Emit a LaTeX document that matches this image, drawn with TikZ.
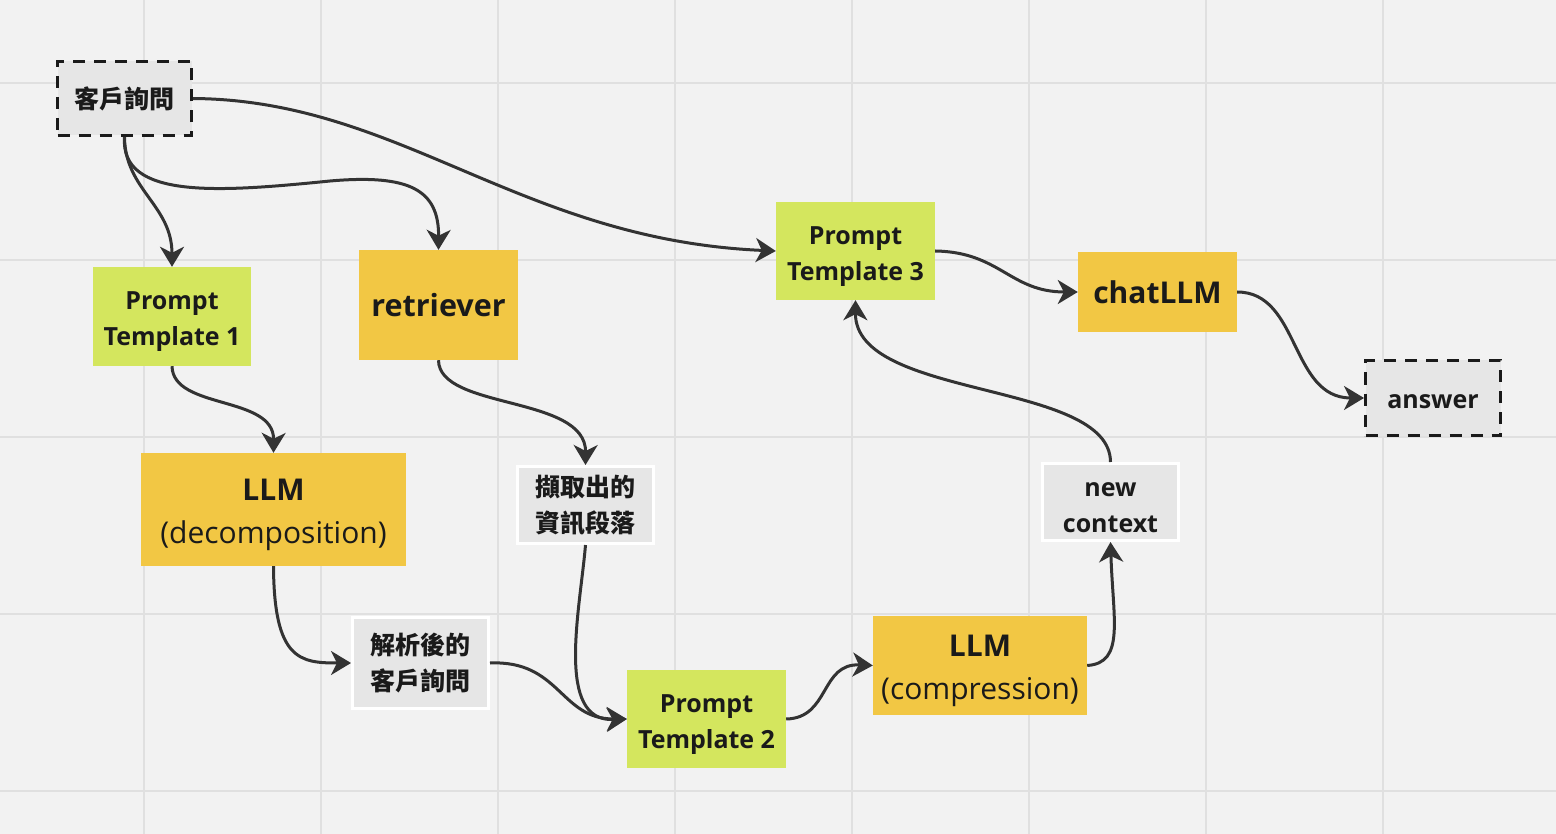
\documentclass[tikz,border=0pt]{standalone}
\usepackage{fontspec}
\setmainfont{Open Sans}
\newfontfamily\cjk{Noto Sans CJK TC}
\usetikzlibrary{arrows.meta}
\definecolor{bg}{HTML}{F2F2F2}
\definecolor{gridc}{HTML}{E0E0E0}
\definecolor{grn}{HTML}{D4E65E}
\definecolor{ylw}{HTML}{F2C744}
\definecolor{gry}{HTML}{E6E6E6}
\definecolor{ink}{HTML}{1A1A1A}
\definecolor{wire}{HTML}{333333}
\newcommand{\lift}{\rule{0pt}{29pt}}
\tikzset{
  box/.style={rectangle, inner sep=0pt, align=center, text=ink, font=\bfseries\fontsize{25}{36}\selectfont},
  greenbox/.style={box, fill=grn},
  yellowbox/.style={box, fill=ylw},
  dashbox/.style={box, fill=gry, draw=ink, line width=3pt, dash pattern=on 12pt off 9pt},
  whitebox/.style={box, fill=gry, draw=white, line width=3pt},
  conn/.style={draw=wire, line width=3pt, -{Stealth[length=20pt,width=24pt,inset=6pt]}},
}
\begin{document}
\begin{tikzpicture}[x=1pt,y=-1pt]
\fill[bg] (0,0) rectangle (1556,834);
\useasboundingbox (0,0) rectangle (1556,834);
\foreach \gx in {144,321,498,675,852,1029,1206,1383}
  \draw[gridc, line width=2pt] (\gx,0) -- (\gx,834);
\foreach \gy in {83,260,437,614,791}
  \draw[gridc, line width=2pt] (0,\gy) -- (1556,\gy);

\node[dashbox, minimum width=134pt, minimum height=74pt] (q) at (124.5,98.5) {\cjk\bfseries 客戶詢問};
\node[greenbox, minimum width=158pt, minimum height=99pt] (pt1) at (172,316.5) {\lift Prompt\\Template 1};
\node[yellowbox, minimum width=159pt, minimum height=110pt, font=\bfseries\fontsize{30.5}{36}\selectfont] (ret) at (438.5,305) {retriever};
\node[greenbox, minimum width=159pt, minimum height=98pt] (pt3) at (855.5,251) {\lift Prompt\\Template 3};
\node[yellowbox, minimum width=159pt, minimum height=80pt, font=\bfseries\fontsize{30}{36}\selectfont] (chat) at (1157.5,292) {chatLLM};
\node[dashbox, minimum width=135pt, minimum height=75pt] (ans) at (1433,398) {\rule{0pt}{21pt}answer};
\node[yellowbox, minimum width=265pt, minimum height=113pt, font=\fontsize{30}{43}\selectfont] (llm1) at (273.5,509.5) {\rule{0pt}{32pt}\textbf{LLM}\\(decomposition)};
\node[whitebox, minimum width=136pt, minimum height=77pt] (ext) at (585.5,505) {\cjk\bfseries 擷取出的\\\cjk\bfseries 資訊段落};
\node[whitebox, minimum width=136pt, minimum height=77pt] (nc) at (1110.5,502) {\rule{0pt}{26pt}new\\context};
\node[whitebox, minimum width=136pt, minimum height=91pt] (parsed) at (420.5,663) {\cjk\bfseries 解析後的\\\cjk\bfseries 客戶詢問};
\node[greenbox, minimum width=159pt, minimum height=98pt] (pt2) at (706.5,719) {\lift Prompt\\Template 2};
\node[yellowbox, minimum width=214pt, minimum height=99pt, font=\fontsize{30}{43}\selectfont] (llm2) at (980,665.5) {\rule{0pt}{32pt}\textbf{LLM}\\(compression)};

\draw[conn] (q.south) .. controls (125,190) and (172,205) .. (pt1.north);
\draw[conn] (q.south) .. controls (120,200) and (220,192) .. (330,181) .. controls (410,174) and (439,190) .. (ret.north);
\draw[conn] (q.east) .. controls (400,100) and (520,240) .. (pt3.west);
\draw[conn] (pt1.south) .. controls (173,410) and (274,395) .. (llm1.north);
\draw[conn] (ret.south) .. controls (439,410) and (586,395) .. (ext.north);
\draw[conn] (llm1.south) .. controls (274,660) and (300,663) .. (parsed.west);
\draw[conn] (ext.south) .. controls (580,610) and (555,722) .. (pt2.west);
\draw[conn] (parsed.east) .. controls (560,660) and (560,719) .. (pt2.west);
\draw[conn] (pt2.east) .. controls (830,718) and (820,663) .. (llm2.west);
\draw[conn] (llm2.east) .. controls (1125,663) and (1113,620) .. (nc.south);
\draw[conn] (nc.north) .. controls (1110,380) and (855,400) .. (pt3.south);
\draw[conn] (pt3.east) .. controls (1000,252) and (1010,292) .. (chat.west);
\draw[conn] (chat.east) .. controls (1300,292) and (1290,398) .. (ans.west);
\end{tikzpicture}
\end{document}
